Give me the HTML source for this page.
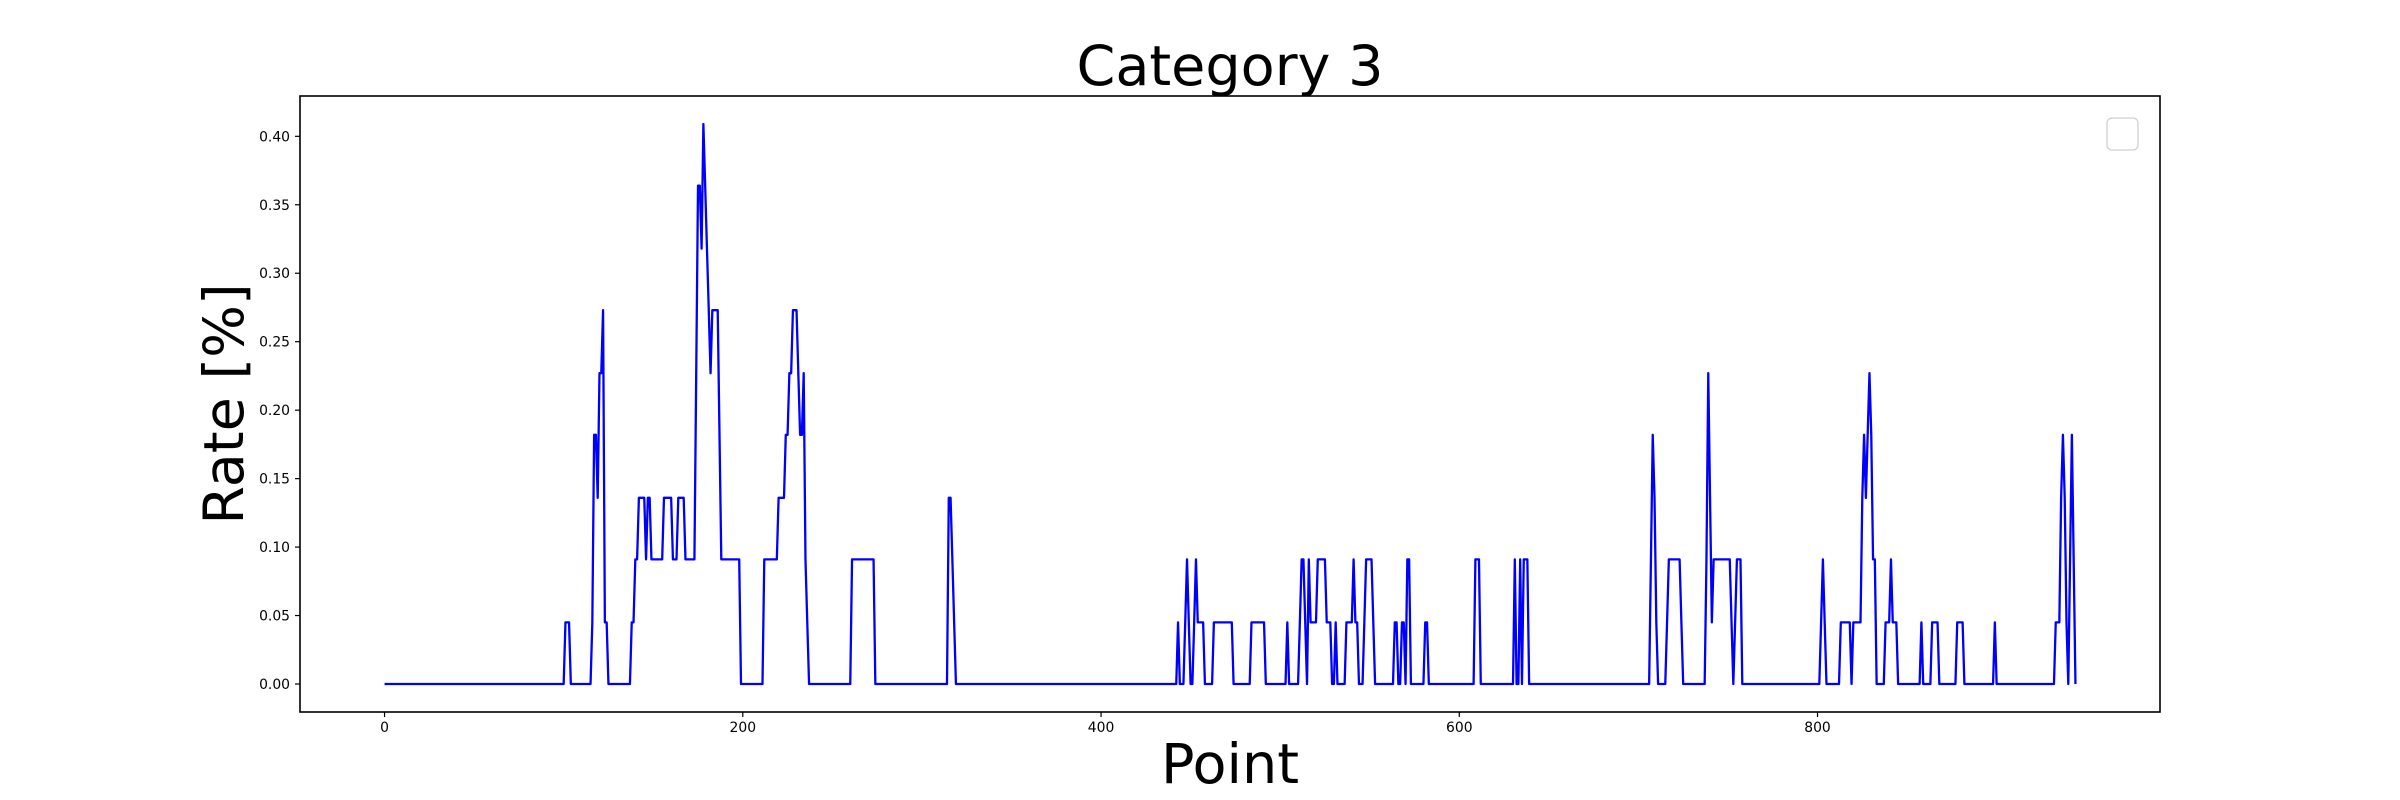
<!DOCTYPE html>
<html>
<head>
<meta charset="utf-8">
<style>
html,body{margin:0;padding:0;background:#fff;}
svg{display:block;}
text{font-family:"DejaVu Sans","Liberation Sans",sans-serif;fill:#000;}
</style>
</head>
<body>
<svg id="chart" width="2400" height="800" viewBox="0 0 2400 800" xmlns="http://www.w3.org/2000/svg">
  <rect x="0" y="0" width="2400" height="800" fill="#fff"/>
  <text x="1230" y="85" font-size="55.6" text-anchor="middle">Category 3</text>
  <text x="1230" y="783" font-size="55.6" text-anchor="middle">Point</text>
  <text transform="translate(243,404) rotate(-90)" font-size="55.6" text-anchor="middle">Rate [%]</text>
  <g id="xticks"></g>
  <g id="yticks"></g>
  <g id="plot"></g>
  <rect x="300" y="96" width="1860" height="616" fill="none" stroke="#000" stroke-width="1.6"/>
  <rect x="2107" y="118" width="31" height="32" rx="5" ry="5" fill="#fff" fill-opacity="0.8" stroke="#d0d0d0" stroke-width="1.3"/>
</svg>
<script>
// Series as step runs: value holds from segStart[i] until segStart[i+1]-1
const segStart = [0,101,104,116,117,119,120,122,123,125,138,140,142,146,147,149,156,161,164,168,174,175,177,178,179,180,181,182,183,187,188,199,212,220,224,226,228,231,232,234,235,236,237,261,274,315,317,318,319,
443,444,447,448,449,450,452,453,454,458,463,474,484,492,504,505,511,512,514,515,516,517,521,526,529,531,532,537,541,542,544,547,548,552,553,564,566,568,570,571,573,581,583,
609,612,631,632,634,635,636,639,707,708,709,710,711,716,717,724,725,738,739,740,741,742,752,753,754,755,758,
802,803,804,805,813,819,820,825,826,827,828,829,830,831,833,838,841,842,845,858,859,864,868,878,882,899,900,933,936,937,938,939,940,941,942,943,944];
const segValue = [0,0.045,0,0.045,0.182,0.136,0.227,0.273,0.045,0,0.045,0.091,0.136,0.091,0.136,0.091,0.136,0.091,0.136,0.091,0.227,0.364,0.318,0.409,0.364,0.318,0.273,0.227,0.273,0.182,0.091,0,0.091,0.136,0.182,0.227,0.273,0.227,0.182,0.227,0.091,0.045,0,0.091,0,0.136,0.091,0.045,0,
0.045,0,0.045,0.091,0.045,0,0.045,0.091,0.045,0,0.045,0,0.045,0,0.045,0,0.045,0.091,0.045,0,0.091,0.045,0.091,0.045,0,0.045,0,0.045,0.091,0.045,0,0.045,0.091,0.045,0,0.045,0,0.045,0,0.091,0,0.045,0,
0.091,0,0.091,0,0.091,0,0.091,0,0.091,0.182,0.136,0.045,0,0.045,0.091,0.045,0,0.091,0.227,0.136,0.045,0.091,0.045,0,0.045,0.091,0,
0.045,0.091,0.045,0,0.045,0,0.045,0.136,0.182,0.136,0.182,0.227,0.182,0.091,0,0.045,0.091,0.045,0,0.045,0,0.045,0,0.045,0,0.045,0,0.045,0.136,0.182,0.136,0.045,0,0.091,0.182,0.091,0];
const pointCount = 945;
const xTickValues = [0,200,400,600,800];
const xTickLabels = ["0","200","400","600","800"];
const yTickValues = [0,0.05,0.10,0.15,0.20,0.25,0.30,0.35,0.40];
const yTickLabels = ["0.00","0.05","0.10","0.15","0.20","0.25","0.30","0.35","0.40"];

const NS = "http://www.w3.org/2000/svg";
const AX = {l:300, r:2160, t:96, b:712};
const series = [];
for (let s = 0; s < segStart.length; s++) {
  const end = s + 1 < segStart.length ? segStart[s+1] : pointCount;
  for (let i = segStart[s]; i < end; i++) series[i] = segValue[s];
}
const xMin = -0.05*(pointCount-1), xMax = (pointCount-1)*1.05;
const yMaxData = Math.max(...series), yMinData = Math.min(...series);
const yPad = (yMaxData - yMinData)*0.05;
const yMin = yMinData - yPad, yMax = yMaxData + yPad;
function xs(v){ return AX.l + (v - xMin)/(xMax - xMin)*(AX.r - AX.l); }
function ys(v){ return AX.b - (v - yMin)/(yMax - yMin)*(AX.b - AX.t); }

const plot = document.getElementById('plot');
let d = "";
series.forEach((v,i)=>{ d += (i?"L":"M") + xs(i).toFixed(2) + "," + ys(v).toFixed(2); });
const line = document.createElementNS(NS,'path');


line.setAttribute('d', d);
line.setAttribute('fill','none');
line.setAttribute('stroke','#0000ff');
line.setAttribute('stroke-width','2.3');
line.setAttribute('stroke-linejoin','round');
plot.appendChild(line);

const xg = document.getElementById('xticks');
xTickValues.forEach((v,i)=>{
  const x = xs(v);
  const t = document.createElementNS(NS,'line');
  
  
  t.setAttribute('x1',x); t.setAttribute('x2',x);
  t.setAttribute('y1',AX.b); t.setAttribute('y2',AX.b+5);
  t.setAttribute('stroke','#000'); t.setAttribute('stroke-width','1.2');
  xg.appendChild(t);
  const lb = document.createElementNS(NS,'text');
  
  
  lb.setAttribute('x',x); lb.setAttribute('y',732);
  lb.setAttribute('font-size','13.9'); lb.setAttribute('text-anchor','middle');
  lb.textContent = xTickLabels[i];
  xg.appendChild(lb);
});
const yg = document.getElementById('yticks');
yTickValues.forEach((v,i)=>{
  const y = ys(v);
  const t = document.createElementNS(NS,'line');
  
  
  t.setAttribute('x1',AX.l-5); t.setAttribute('x2',AX.l);
  t.setAttribute('y1',y); t.setAttribute('y2',y);
  t.setAttribute('stroke','#000'); t.setAttribute('stroke-width','1.2');
  yg.appendChild(t);
  const lb = document.createElementNS(NS,'text');
  
  
  lb.setAttribute('x',AX.l-10); lb.setAttribute('y',y+5);
  lb.setAttribute('font-size','13.9'); lb.setAttribute('text-anchor','end');
  lb.textContent = yTickLabels[i];
  yg.appendChild(lb);
});
</script>
</body>
</html>
